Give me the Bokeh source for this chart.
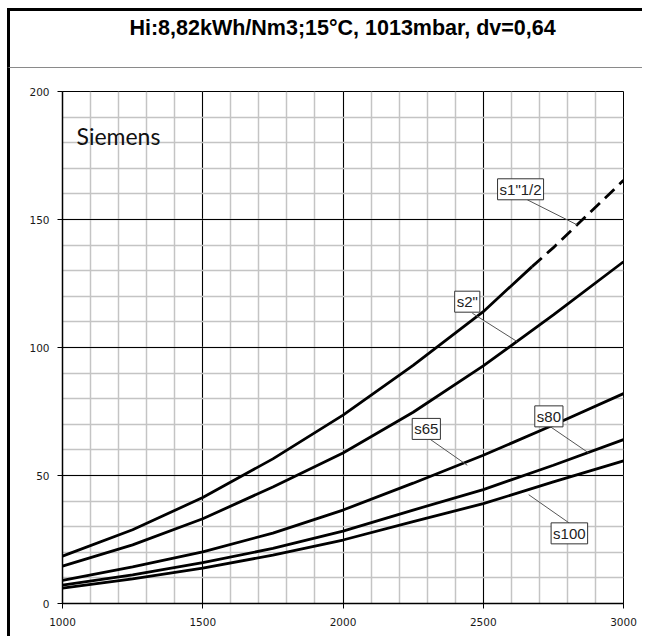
from bokeh.plotting import figure
from bokeh.layouts import column
from bokeh.models import FixedTicker, Label, Range1d
from bokeh.embed import file_html
from bokeh.resources import INLINE

# ---- data ----
flow = [1000, 1250, 1500, 1750, 2000, 2250, 2500]
s1_half = [18.5, 28.8, 41.4, 56.5, 73.6, 93.0, 114.0]
s1_half_split_x = 2674
s1_half_split_y = 131.6
s1_half_dash_x = [2674, 2750, 3000]
s1_half_dash_y = [131.6, 139.0, 165.3]

flow_full = [1000, 1250, 1500, 1750, 2000, 2250, 2500, 2750, 3000]
s2 = [14.6, 22.9, 33.1, 45.5, 58.8, 74.7, 92.8, 112.7, 133.5]
s65 = [9.0, 14.3, 20.2, 27.5, 36.5, 47.0, 57.9, 69.7, 82.0]
s80 = [7.2, 11.2, 16.0, 21.5, 28.3, 36.5, 44.5, 54.0, 64.0]
s100 = [6.0, 9.6, 13.8, 18.9, 24.8, 32.0, 39.0, 47.5, 55.7]

x_ticks = [1000, 1500, 2000, 2500, 3000]
x_minor = list(range(1000, 3001, 100))
y_ticks = [0, 50, 100, 150, 200]
y_minor = list(range(0, 201, 10))

title_text = "Hi:8,82kWh/Nm3;15°C, 1013mbar, dv=0,64"

W = 635
HH = 60

# ---- header with title ----
hdr = figure(width=W, height=HH, output_backend="svg", toolbar_location=None,
             x_range=Range1d(0, W), y_range=Range1d(0, HH),
             min_border=0, min_border_left=0, min_border_right=0,
             min_border_top=0, min_border_bottom=0)
hdr.axis.visible = False
hdr.grid.visible = False
hdr.outline_line_color = None
hdr.background_fill_color = "white"
hdr.border_fill_color = "white"
hdr.styles = {"border-left": "3px solid black", "border-top": "3px solid black",
              "border-bottom": "1px solid #8a8a8a"}
hdr.add_layout(Label(x=317, y=44, text=title_text, text_align="center",
                     text_baseline="middle", text_font="Liberation Sans",
                     text_font_size="21.5px", text_font_style="bold", text_color="black"))

# ---- main chart ----
p = figure(width=W, height=568, output_backend="svg", toolbar_location=None,
           x_range=Range1d(1000, 3000), y_range=Range1d(0, 200),
           min_border_left=52, min_border_right=22, min_border_top=23,
           min_border_bottom=33)
p.styles = {"border-left": "3px solid black"}
p.background_fill_color = "white"
p.border_fill_color = "white"
p.outline_line_color = "black"
p.outline_line_width = 1

xt = FixedTicker(ticks=x_ticks, minor_ticks=x_minor)
yt = FixedTicker(ticks=y_ticks, minor_ticks=y_minor)
p.xaxis.ticker = xt
p.yaxis.ticker = yt
p.xgrid.ticker = xt
p.ygrid.ticker = yt
for g in (p.xgrid, p.ygrid):
    g.grid_line_color = "black"
    g.grid_line_width = 1
    g.minor_grid_line_color = "#c4c4c4"
    g.minor_grid_line_width = 1.5
    g.level = "underlay"

for ax in (p.xaxis, p.yaxis):
    ax.axis_line_color = "black"
    ax.axis_line_width = 1.5
    ax.major_tick_line_color = "black"
    ax.major_tick_out = 5
    ax.major_tick_in = 0
    ax.minor_tick_line_color = None
    ax.major_label_text_font = "DejaVu Sans"
    ax.major_label_text_font_size = "10.5px"
    ax.major_label_text_color = "#1a1a1a"
p.xaxis.major_label_standoff = 9
p.yaxis.major_label_standoff = 8

# curves
p.line(flow + [s1_half_split_x], s1_half + [s1_half_split_y], line_color="black", line_width=2.8)
p.line(s1_half_dash_x, s1_half_dash_y, line_color="black", line_width=2.8, line_dash="13 7")
for ys in (s2, s65, s80, s100):
    p.line(flow_full, ys, line_color="black", line_width=2.8)

# leader lines
p.segment(x0=[2657, 2461, 2306, 2740, 2807], y0=[157.7, 113.4, 64.5, 69.0, 31.4],
          x1=[2835, 2621, 2443, 2876, 2662], y1=[147.9, 102.3, 54.0, 58.8, 42.5],
          line_color="#555555", line_width=1)

labels = [('s1"1/2', 2633, 161.8), ('s2"', 2443, 117.9), ("s65", 2297, 68.2),
          ("s80", 2734, 73.1), ("s100", 2807, 27.4)]
for txt, lx, ly in labels:
    p.add_layout(Label(x=lx, y=ly, text=txt, text_align="center", text_baseline="middle",
                       text_font="Liberation Sans", text_font_size="15px", text_color="#222222",
                       background_fill_color="white", border_line_color="#333333",
                       border_line_width=1, padding=2))

p.add_layout(Label(x=1050, y=182.5, text="Siemens", text_align="left",
                   text_baseline="alphabetic", text_font="Lato", text_font_size="23px",
                   text_color="#111111"))

layout = column(hdr, p, spacing=0)
layout.styles = {"margin-left": "7px", "margin-top": "8px"}

open("out.html", "w").write(file_html(layout, INLINE))
